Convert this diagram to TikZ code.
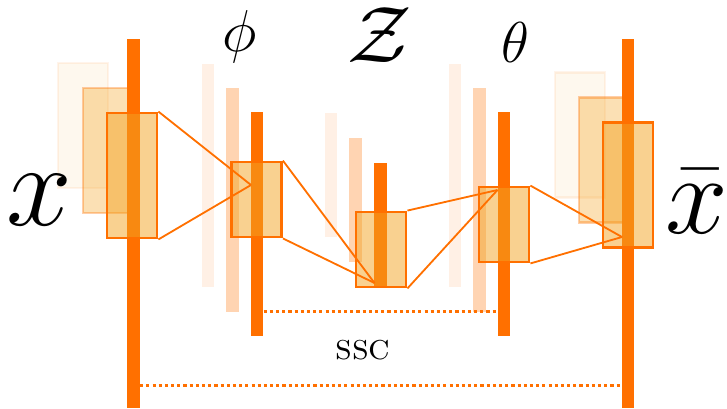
\RequirePackage{fix-cm}
\documentclass[tikz,border=0pt]{standalone}
\usepackage{tikz}
\definecolor{NetOrange}{HTML}{FF7000}
\definecolor{NetAmber}{HTML}{F3A322}
\tikzset{
    layer/.style={
        fill=NetOrange,
        draw=none,
        fill opacity=#1,
        minimum width=0.32cm,
        inner sep=0pt
    },
    layer/.default=1,
    code/.style={
        draw=NetOrange,
        line width=2pt,
        fill=NetAmber,
        fill opacity=0.5,
        minimum width=1.25cm,
        inner sep=0pt
    },
    ghost/.style={
        code,
        fill opacity=#1,
        draw opacity=#1
    },
    link/.style={
        draw=NetOrange,
        line width=1.3pt
    },
    skip/.style={
        draw=NetOrange,
        line width=2pt,
        dash pattern=on 2.2pt off 2.2pt
    },
    sym/.style={
        inner sep=0pt,
        anchor=base
    }
}

\begin{document}
\begin{tikzpicture}[x=0.025cm, y=-0.025cm]
    \useasboundingbox (0,0) rectangle (727,408);

    % Faded copies behind
    \node[ghost=0.08, minimum height=3.125cm] (inback) at (83,125.5) {};
    \node[ghost=0.34, minimum height=3.125cm] (inmid) at (108,150.5) {};
    \node[ghost=0.08, minimum height=3.125cm] (outback) at (580,135) {};
    \node[ghost=0.34, minimum height=3.125cm] (outmid) at (604,160) {};

    \node[layer=0.1, minimum height=5.575cm] (phiback) at (208,175.5) {};
    \node[layer=0.3, minimum height=5.575cm] (phimid) at (232.5,200) {};
    \node[layer=0.1, minimum height=3.1cm] (zback) at (331,175) {};
    \node[layer=0.3, minimum height=3.1cm] (zmid) at (355.5,200) {};
    \node[layer=0.1, minimum height=5.575cm] (thetaback) at (455,175.5) {};
    \node[layer=0.3, minimum height=5.575cm] (thetamid) at (479.5,200) {};

    % Layers
    \node[layer, minimum height=9.225cm] (inbar) at (133.5,223.5) {};
    \node[layer, minimum height=5.575cm] (phibar) at (257,224) {};
    \node[layer, minimum height=3.1cm] (zbar) at (380.5,225) {};
    \node[layer, minimum height=5.575cm] (thetabar) at (504,224) {};
    \node[layer, minimum height=9.225cm] (outbar) at (628,223.5) {};

    % Codes
    \node[code, minimum height=3.125cm] (incode) at (132,175.5) {};
    \node[code, minimum height=1.875cm] (phicode) at (256.5,199.5) {};
    \node[code, minimum height=1.875cm] (zcode) at (381,249.5) {};
    \node[code, minimum height=1.875cm] (thetacode) at (504,224.5) {};
    \node[code, minimum height=3.125cm] (outcode) at (628,185) {};

    \coordinate (phiin) at (251,185);
    \coordinate (zin) at (374.5,283);
    \coordinate (thetain) at (497.5,190);
    \coordinate (outin) at (622,237);

    \draw[link] (incode.north east) -- (phiin);
    \draw[link] (incode.south east) -- (phiin);
    \draw[link] (phicode.north east) -- (zin);
    \draw[link] (phicode.south east) -- (zin);
    \draw[link] (zcode.north east) -- (thetain);
    \draw[link] (zcode.south east) -- (thetain);
    \draw[link] (thetacode.north east) -- (outin);
    \draw[link] (thetacode.south east) -- (outin);

    % Skips
    \draw[skip] ([yshift=0.6cm]phibar.south east) -- ([yshift=0.6cm]thetabar.south west);
    \draw[skip] ([yshift=0.575cm]inbar.south east) -- ([yshift=0.575cm]outbar.south west);
    \node[font=\fontsize{26}{26}\selectfont] (ssc) at (363,350) {\textsc{ssc}};

    % Labels
    \node[sym, font=\fontsize{84}{84}\selectfont] (xlab) at (39,225) {$x$};
    \node[sym, font=\fontsize{42}{42}\selectfont] (philab) at (240,51) {$\phi$};
    \node[sym, font=\fontsize{57}{57}\selectfont] (zlab) at (380,62) {$\mathcal{Z}$};
    \node[sym, font=\fontsize{41}{41}\selectfont] (thetalab) at (515,62) {$\theta$};
    \node[sym, font=\fontsize{80}{80}\selectfont] (xbarlab) at (697,233) {$\bar{x}$};
\end{tikzpicture}
\end{document}
